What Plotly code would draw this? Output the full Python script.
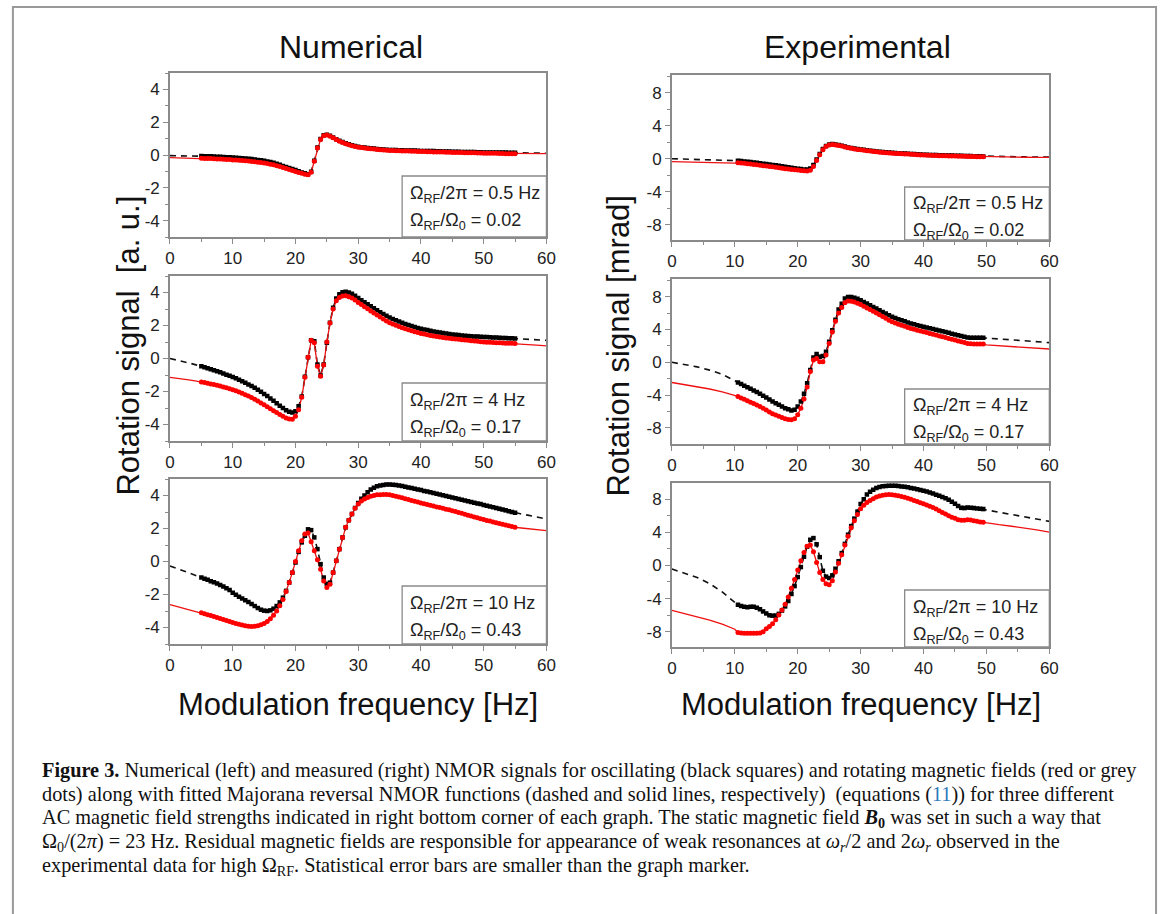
import plotly.graph_objects as go

W, H = 1168, 914

# ---------------------------------------------------------------- data
# sampling grids of the simulated (numerical) and measured (experimental) points
X_NUM = [round(5 + 0.5 * i, 1) for i in range(101)]      # 5 ... 55 Hz
X_EXP = [round(10.5 + 0.5 * i, 1) for i in range(79)]    # 10.5 ... 49.5 Hz
# fitted curves outside the measured range
X_NUM_FIT_L = [0, 1, 2, 3, 4]
X_NUM_FIT_R = [56, 57, 58, 59, 60]
X_EXP_FIT_L = [0, 2, 4, 6, 8, 10]
X_EXP_FIT_R = [50, 52, 54, 56, 58, 60]

X_TICKS = [0, 10, 20, 30, 40, 50, 60]
X_MINOR = [5, 15, 25, 35, 45, 55]
Y_TICKS_NUM = [-4, -2, 0, 2, 4]
Y_MINOR_NUM = [-5, -3, -1, 1, 3, 5]
Y_TICKS_EXP = [-8, -4, 0, 4, 8]
Y_MINOR_EXP = [-10, -6, -2, 2, 6, 10]

# ---- Numerical, Omega_RF/2pi = 0.5 Hz
NUM1_OSC = [
    -0.06, -0.07, -0.07, -0.08, -0.09, -0.10, -0.11, -0.12, -0.13, -0.14,
    -0.16, -0.17, -0.18, -0.20, -0.21, -0.23, -0.25, -0.27, -0.30, -0.32,
    -0.35, -0.39, -0.43, -0.48, -0.54, -0.60, -0.67, -0.73, -0.79, -0.86,
    -0.92, -0.99, -1.06, -1.12, -1.18, -1.02, -0.35, 0.45, 0.98, 1.20,
    1.24, 1.17, 1.07, 0.96, 0.87, 0.79, 0.72, 0.66, 0.60, 0.55,
    0.51, 0.48, 0.45, 0.43, 0.41, 0.39, 0.37, 0.35, 0.34, 0.32,
    0.31, 0.30, 0.30, 0.29, 0.29, 0.28, 0.28, 0.27, 0.27, 0.26,
    0.25, 0.25, 0.25, 0.24, 0.24, 0.23, 0.23, 0.22, 0.22, 0.21,
    0.20, 0.20, 0.20, 0.19, 0.19, 0.18, 0.18, 0.18, 0.17, 0.17,
    0.16, 0.16, 0.16, 0.16, 0.15, 0.15, 0.15, 0.15, 0.14, 0.14,
    0.14]
NUM1_ROT = [
    -0.20, -0.21, -0.21, -0.22, -0.23, -0.24, -0.25, -0.26, -0.27, -0.28,
    -0.30, -0.31, -0.32, -0.34, -0.35, -0.37, -0.39, -0.41, -0.44, -0.46,
    -0.49, -0.52, -0.56, -0.60, -0.65, -0.70, -0.76, -0.82, -0.88, -0.94,
    -1.00, -1.06, -1.12, -1.17, -1.21, -1.05, -0.38, 0.42, 0.95, 1.18,
    1.22, 1.15, 1.05, 0.94, 0.84, 0.76, 0.69, 0.63, 0.57, 0.52,
    0.48, 0.45, 0.42, 0.40, 0.38, 0.36, 0.34, 0.32, 0.31, 0.29,
    0.28, 0.27, 0.26, 0.26, 0.25, 0.24, 0.24, 0.23, 0.23, 0.22,
    0.21, 0.21, 0.20, 0.20, 0.19, 0.19, 0.18, 0.18, 0.17, 0.17,
    0.16, 0.16, 0.15, 0.15, 0.14, 0.14, 0.13, 0.13, 0.12, 0.12,
    0.11, 0.11, 0.10, 0.10, 0.10, 0.09, 0.09, 0.08, 0.08, 0.07,
    0.07]
NUM1_FIT_OSC_L = [-0.04, -0.04, -0.05, -0.05, -0.06]
NUM1_FIT_OSC_R = [0.13, 0.13, 0.12, 0.12, 0.11]
NUM1_FIT_ROT_L = [-0.16, -0.17, -0.18, -0.19, -0.19]
NUM1_FIT_ROT_R = [0.07, 0.07, 0.07, 0.08, 0.08]

# ---- Numerical, Omega_RF/2pi = 4 Hz
NUM2_OSC = [
    -0.47, -0.53, -0.59, -0.65, -0.71, -0.77, -0.84, -0.91, -0.98, -1.05,
    -1.12, -1.20, -1.29, -1.38, -1.47, -1.57, -1.67, -1.78, -1.90, -2.02,
    -2.15, -2.28, -2.42, -2.56, -2.71, -2.86, -3.00, -3.13, -3.22, -3.27,
    -3.20, -2.90, -2.30, -1.10, 0.08, 1.10, 1.05, -0.36, -1.03, -0.36,
    0.95, 2.17, 3.08, 3.63, 3.90, 4.02, 4.04, 4.00, 3.92, 3.80,
    3.66, 3.53, 3.41, 3.29, 3.17, 3.05, 2.93, 2.81, 2.70, 2.59,
    2.49, 2.40, 2.32, 2.24, 2.16, 2.09, 2.03, 1.97, 1.91, 1.85,
    1.80, 1.76, 1.72, 1.68, 1.64, 1.61, 1.58, 1.55, 1.52, 1.49,
    1.46, 1.44, 1.42, 1.40, 1.38, 1.36, 1.35, 1.34, 1.33, 1.32,
    1.31, 1.30, 1.29, 1.28, 1.27, 1.26, 1.25, 1.24, 1.23, 1.22,
    1.21]
NUM2_ROT = [
    -1.42, -1.46, -1.50, -1.54, -1.58, -1.62, -1.67, -1.72, -1.78, -1.83,
    -1.89, -1.96, -2.03, -2.11, -2.19, -2.28, -2.37, -2.47, -2.58, -2.69,
    -2.80, -2.92, -3.04, -3.16, -3.28, -3.40, -3.50, -3.60, -3.67, -3.68,
    -3.50, -3.10, -2.35, -1.14, 0.08, 1.10, 0.95, -0.47, -1.07, -0.40,
    1.00, 2.15, 3.00, 3.50, 3.70, 3.79, 3.80, 3.75, 3.66, 3.54,
    3.40, 3.27, 3.14, 3.01, 2.88, 2.76, 2.64, 2.52, 2.40, 2.28,
    2.17, 2.09, 2.01, 1.94, 1.87, 1.80, 1.74, 1.68, 1.62, 1.57,
    1.52, 1.48, 1.44, 1.40, 1.36, 1.33, 1.30, 1.27, 1.24, 1.22,
    1.20, 1.18, 1.16, 1.14, 1.12, 1.10, 1.08, 1.06, 1.04, 1.02,
    1.00, 0.99, 0.98, 0.97, 0.96, 0.95, 0.94, 0.93, 0.92, 0.92,
    0.91]
NUM2_FIT_OSC_L = [0.00, -0.08, -0.17, -0.27, -0.37]
NUM2_FIT_OSC_R = [1.19, 1.17, 1.15, 1.13, 1.10]
NUM2_FIT_ROT_L = [-1.14, -1.18, -1.23, -1.29, -1.35]
NUM2_FIT_ROT_R = [0.88, 0.85, 0.82, 0.79, 0.76]

# ---- Numerical, Omega_RF/2pi = 10 Hz
NUM3_OSC = [
    -0.97, -1.04, -1.11, -1.19, -1.26, -1.34, -1.42, -1.52, -1.62, -1.73,
    -1.90, -2.02, -2.13, -2.24, -2.35, -2.46, -2.57, -2.70, -2.82, -2.92,
    -2.98, -3.00, -2.96, -2.86, -2.70, -2.48, -2.19, -1.78, -1.28, -0.68,
    -0.06, 0.58, 1.16, 1.56, 1.95, 1.90, 1.46, 0.75, -0.16, -0.97,
    -1.36, -1.28, -0.67, 0.04, 0.75, 1.46, 2.07, 2.50, 2.88, 3.25,
    3.55, 3.80, 4.00, 4.20, 4.36, 4.47, 4.56, 4.61, 4.64, 4.66,
    4.66, 4.65, 4.63, 4.60, 4.57, 4.53, 4.49, 4.45, 4.41, 4.37,
    4.33, 4.28, 4.24, 4.19, 4.15, 4.10, 4.06, 4.01, 3.97, 3.92,
    3.88, 3.83, 3.79, 3.74, 3.70, 3.65, 3.61, 3.56, 3.52, 3.48,
    3.43, 3.38, 3.34, 3.29, 3.24, 3.19, 3.15, 3.10, 3.05, 3.00,
    2.95]
NUM3_ROT = [
    -3.10, -3.16, -3.22, -3.28, -3.34, -3.40, -3.46, -3.52, -3.58, -3.64,
    -3.70, -3.75, -3.80, -3.85, -3.89, -3.92, -3.94, -3.93, -3.90, -3.84,
    -3.75, -3.63, -3.47, -3.26, -3.00, -2.68, -2.30, -1.82, -1.28, -0.66,
    0.00, 0.65, 1.26, 1.66, 1.72, 1.20, 0.65, 0.10, -0.47, -1.18,
    -1.58, -1.38, -0.67, 0.04, 0.75, 1.46, 2.07, 2.50, 2.88, 3.22,
    3.49, 3.66, 3.79, 3.88, 3.96, 4.00, 4.04, 4.05, 4.06, 4.06,
    4.04, 4.00, 3.96, 3.91, 3.86, 3.81, 3.76, 3.70, 3.65, 3.60,
    3.55, 3.50, 3.45, 3.41, 3.36, 3.31, 3.27, 3.22, 3.17, 3.13,
    3.08, 3.03, 2.97, 2.92, 2.86, 2.81, 2.76, 2.70, 2.65, 2.59,
    2.54, 2.49, 2.45, 2.40, 2.35, 2.30, 2.26, 2.21, 2.16, 2.12,
    2.07]
NUM3_FIT_OSC_L = [-0.27, -0.40, -0.54, -0.68, -0.83]
NUM3_FIT_OSC_R = [2.88, 2.81, 2.74, 2.66, 2.58]
NUM3_FIT_ROT_L = [-2.62, -2.72, -2.82, -2.92, -3.01]
NUM3_FIT_ROT_R = [2.03, 1.99, 1.95, 1.91, 1.87]

# ---- Experimental, Omega_RF/2pi = 0.5 Hz
EXP1_OSC = [
    -0.24, -0.28, -0.32, -0.36, -0.40, -0.45, -0.50, -0.55, -0.60, -0.65,
    -0.70, -0.75, -0.80, -0.86, -0.92, -0.98, -1.04, -1.10, -1.15, -1.20,
    -1.25, -1.29, -1.30, -1.17, -0.77, -0.08, 0.57, 1.17, 1.54, 1.74,
    1.78, 1.74, 1.66, 1.58, 1.48, 1.37, 1.30, 1.24, 1.18, 1.13,
    1.08, 1.03, 0.98, 0.93, 0.89, 0.85, 0.81, 0.78, 0.75, 0.73,
    0.70, 0.68, 0.65, 0.63, 0.61, 0.58, 0.56, 0.54, 0.51, 0.49,
    0.48, 0.46, 0.45, 0.44, 0.43, 0.41, 0.40, 0.39, 0.38, 0.37,
    0.36, 0.35, 0.34, 0.33, 0.32, 0.31, 0.30, 0.29, 0.28]
EXP1_ROT = [
    -0.48, -0.52, -0.56, -0.60, -0.64, -0.69, -0.74, -0.79, -0.84, -0.89,
    -0.93, -0.98, -1.03, -1.08, -1.14, -1.20, -1.25, -1.30, -1.34, -1.38,
    -1.43, -1.47, -1.50, -1.40, -0.95, -0.22, 0.48, 1.10, 1.48, 1.68,
    1.72, 1.68, 1.61, 1.53, 1.43, 1.33, 1.26, 1.19, 1.13, 1.08,
    1.03, 0.98, 0.93, 0.88, 0.84, 0.80, 0.76, 0.73, 0.70, 0.68,
    0.65, 0.63, 0.60, 0.58, 0.56, 0.53, 0.51, 0.49, 0.46, 0.44,
    0.43, 0.41, 0.40, 0.39, 0.37, 0.36, 0.35, 0.34, 0.33, 0.32,
    0.31, 0.30, 0.29, 0.28, 0.27, 0.26, 0.25, 0.24, 0.23]
EXP1_FIT_OSC_L = [0.00, -0.03, -0.07, -0.11, -0.16, -0.21]
EXP1_FIT_OSC_R = [0.27, 0.25, 0.24, 0.22, 0.21, 0.20]
EXP1_FIT_ROT_L = [-0.36, -0.38, -0.40, -0.42, -0.44, -0.46]
EXP1_FIT_ROT_R = [0.22, 0.21, 0.20, 0.18, 0.17, 0.16]

# ---- Experimental, Omega_RF/2pi = 4 Hz
EXP2_OSC = [
    -2.46, -2.65, -2.84, -3.03, -3.23, -3.43, -3.63, -3.84, -4.07, -4.30,
    -4.53, -4.77, -4.98, -5.18, -5.38, -5.58, -5.72, -5.86, -5.78, -5.37,
    -4.77, -3.84, -2.55, -0.93, 0.60, 1.00, 0.69, 0.77, 1.30, 2.50,
    3.92, 5.20, 6.42, 7.15, 7.76, 7.96, 7.96, 7.88, 7.74, 7.56,
    7.36, 7.16, 6.96, 6.75, 6.55, 6.35, 6.14, 5.94, 5.74, 5.54,
    5.40, 5.26, 5.13, 5.00, 4.86, 4.73, 4.63, 4.53, 4.42, 4.32,
    4.23, 4.15, 4.06, 3.97, 3.89, 3.80, 3.70, 3.60, 3.49, 3.39,
    3.30, 3.20, 3.11, 3.03, 3.00, 2.99, 2.99, 2.99, 2.99]
EXP2_ROT = [
    -4.16, -4.34, -4.51, -4.69, -4.86, -5.03, -5.20, -5.37, -5.59, -5.81,
    -6.04, -6.26, -6.42, -6.58, -6.73, -6.87, -6.96, -6.99, -6.87, -6.38,
    -5.58, -4.48, -3.00, -1.13, 0.28, 0.48, 0.08, 0.08, 0.90, 2.30,
    3.70, 5.00, 6.00, 6.67, 7.27, 7.47, 7.45, 7.35, 7.20, 7.03,
    6.83, 6.63, 6.43, 6.22, 6.00, 5.78, 5.57, 5.36, 5.14, 4.93,
    4.79, 4.65, 4.52, 4.39, 4.25, 4.12, 4.02, 3.92, 3.82, 3.72,
    3.62, 3.52, 3.42, 3.32, 3.22, 3.11, 3.01, 2.91, 2.81, 2.71,
    2.60, 2.50, 2.40, 2.30, 2.25, 2.22, 2.22, 2.22, 2.22]
EXP2_FIT_OSC_L = [0.00, -0.25, -0.55, -0.95, -1.45, -2.25]
EXP2_FIT_OSC_R = [2.95, 2.85, 2.75, 2.63, 2.52, 2.40]
EXP2_FIT_ROT_L = [-2.46, -2.70, -2.95, -3.25, -3.60, -4.00]
EXP2_FIT_ROT_R = [2.12, 2.02, 1.92, 1.82, 1.72, 1.62]

# ---- Experimental, Omega_RF/2pi = 10 Hz
EXP3_OSC = [
    -4.76, -4.90, -5.00, -5.04, -5.00, -4.98, -5.10, -5.30, -5.55, -5.80,
    -6.02, -6.07, -6.05, -5.85, -5.45, -4.95, -4.30, -3.45, -2.50, -1.40,
    -0.20, 1.05, 2.25, 3.10, 3.30, 2.55, 1.00, -0.65, -1.35, -1.52,
    -1.20, -0.40, 0.50, 1.49, 2.60, 3.71, 4.75, 5.65, 6.50, 7.40,
    8.00, 8.55, 8.90, 9.15, 9.35, 9.48, 9.56, 9.60, 9.62, 9.62,
    9.61, 9.58, 9.54, 9.49, 9.43, 9.36, 9.28, 9.20, 9.11, 9.02,
    8.92, 8.80, 8.67, 8.54, 8.40, 8.25, 8.10, 7.93, 7.70, 7.45,
    7.18, 6.95, 6.92, 6.98, 6.96, 6.92, 6.88, 6.84, 6.80]
EXP3_ROT = [
    -8.10, -8.15, -8.18, -8.18, -8.20, -8.20, -8.18, -8.15, -8.00, -7.65,
    -7.38, -7.05, -6.55, -6.00, -5.38, -4.70, -3.80, -2.75, -1.70, -0.55,
    0.55, 1.55, 2.30, 2.45, 1.65, 0.35, -0.85, -1.70, -2.20, -2.34,
    -1.85, -0.80, 0.25, 1.29, 2.45, 3.51, 4.55, 5.40, 6.15, 6.85,
    7.25, 7.60, 7.85, 8.05, 8.25, 8.38, 8.48, 8.54, 8.55, 8.52,
    8.47, 8.40, 8.32, 8.22, 8.10, 7.98, 7.85, 7.72, 7.58, 7.45,
    7.30, 7.15, 6.98, 6.80, 6.60, 6.40, 6.20, 6.00, 5.80, 5.68,
    5.52, 5.44, 5.44, 5.50, 5.48, 5.40, 5.32, 5.25, 5.20]
EXP3_FIT_OSC_L = [-0.44, -0.90, -1.45, -2.20, -3.20, -4.48]
EXP3_FIT_OSC_R = [6.70, 6.42, 6.15, 5.85, 5.58, 5.32]
EXP3_FIT_ROT_L = [-5.44, -5.80, -6.17, -6.60, -7.10, -7.70]
EXP3_FIT_ROT_R = [5.12, 4.92, 4.73, 4.53, 4.30, 4.03]

BOX_LINE1 = ["Ω<sub>RF</sub>/2π = 0.5 Hz", "Ω<sub>RF</sub>/2π = 4 Hz", "Ω<sub>RF</sub>/2π = 10 Hz"]
BOX_LINE2 = ["Ω<sub>RF</sub>/Ω<sub>0</sub> = 0.02", "Ω<sub>RF</sub>/Ω<sub>0</sub> = 0.17",
             "Ω<sub>RF</sub>/Ω<sub>0</sub> = 0.43"]

COLUMN_TITLES = ["Numerical", "Experimental"]
Y_TITLES = ["Rotation signal&nbsp; [a. u.]", "Rotation signal [mrad]"]
X_TITLE = "Modulation frequency [Hz]"

CAPTION = [
    "<b>Figure 3.</b> Numerical (left) and measured (right) NMOR signals for oscillating (black squares) "
    "and rotating magnetic fields (red or grey",
    "dots) along with fitted Majorana reversal NMOR functions (dashed and solid lines, respectively)&nbsp; "
    "(equations (<span style='color:#2b7bb9'>11</span>)) for three different",
    "AC magnetic field strengths indicated in right bottom corner of each graph. The static magnetic field "
    "<b><i>B</i><sub>0</sub></b> was set in such a way that",
    "Ω<sub>0</sub>/(2<i>π</i>) = 23 Hz. Residual magnetic fields are responsible for appearance of weak "
    "resonances at <i>ω<sub>r</sub></i>/2 and 2<i>ω<sub>r</sub></i> observed in the",
    "experimental data for high Ω<sub>RF</sub>. Statistical error bars are smaller than the graph marker.",
]

# ---------------------------------------------------------------- panels
PANELS = [
    dict(x=X_NUM, osc=NUM1_OSC, rot=NUM1_ROT, xl=X_NUM_FIT_L, xr=X_NUM_FIT_R,
         fol=NUM1_FIT_OSC_L, for_=NUM1_FIT_OSC_R, frl=NUM1_FIT_ROT_L, frr=NUM1_FIT_ROT_R, row=0, col=0),
    dict(x=X_NUM, osc=NUM2_OSC, rot=NUM2_ROT, xl=X_NUM_FIT_L, xr=X_NUM_FIT_R,
         fol=NUM2_FIT_OSC_L, for_=NUM2_FIT_OSC_R, frl=NUM2_FIT_ROT_L, frr=NUM2_FIT_ROT_R, row=1, col=0),
    dict(x=X_NUM, osc=NUM3_OSC, rot=NUM3_ROT, xl=X_NUM_FIT_L, xr=X_NUM_FIT_R,
         fol=NUM3_FIT_OSC_L, for_=NUM3_FIT_OSC_R, frl=NUM3_FIT_ROT_L, frr=NUM3_FIT_ROT_R, row=2, col=0),
    dict(x=X_EXP, osc=EXP1_OSC, rot=EXP1_ROT, xl=X_EXP_FIT_L, xr=X_EXP_FIT_R,
         fol=EXP1_FIT_OSC_L, for_=EXP1_FIT_OSC_R, frl=EXP1_FIT_ROT_L, frr=EXP1_FIT_ROT_R, row=0, col=1),
    dict(x=X_EXP, osc=EXP2_OSC, rot=EXP2_ROT, xl=X_EXP_FIT_L, xr=X_EXP_FIT_R,
         fol=EXP2_FIT_OSC_L, for_=EXP2_FIT_OSC_R, frl=EXP2_FIT_ROT_L, frr=EXP2_FIT_ROT_R, row=1, col=1),
    dict(x=X_EXP, osc=EXP3_OSC, rot=EXP3_ROT, xl=X_EXP_FIT_L, xr=X_EXP_FIT_R,
         fol=EXP3_FIT_OSC_L, for_=EXP3_FIT_OSC_R, frl=EXP3_FIT_ROT_L, frr=EXP3_FIT_ROT_R, row=2, col=1),
]

# geometry (pixels): left, right, top, bottom of each plot area; y range; box top pixel
GEOM = [
    dict(l=167, r=548, t=73, b=237, yr=(-5, 5), box_t=176),
    dict(l=167, r=548, t=276, b=441, yr=(-5, 5), box_t=383),
    dict(l=167, r=548, t=479, b=644, yr=(-5, 5), box_t=586),
    dict(l=675, r=1057, t=75, b=240, yr=(-9.85, 10.15), box_t=187),
    dict(l=675, r=1057, t=279, b=444, yr=(-9.95, 10.15), box_t=389),
    dict(l=675, r=1057, t=483, b=647, yr=(-9.85, 9.95), box_t=590),
]
BOX_X0 = 37

AX_GRAY = "#8a8a8a"
TICK_FONT = dict(family="Liberation Sans, Arial, sans-serif", size=17, color="#222222")
SANS = "Liberation Sans, Arial, sans-serif"
SERIF = "Liberation Serif, Times New Roman, serif"


def px(x):
    return x / W


def py(y):
    return 1 - y / H


fig = go.Figure()
layout = dict(width=W, height=H, margin=dict(l=0, r=0, t=0, b=0),
              paper_bgcolor="white", plot_bgcolor="white", showlegend=False,
              annotations=[], shapes=[])

for k, (p, g) in enumerate(zip(PANELS, GEOM), start=1):
    xa = "x" if k == 1 else f"x{k}"
    ya = "y" if k == 1 else f"y{k}"
    xkey = "xaxis" if k == 1 else f"xaxis{k}"
    ykey = "yaxis" if k == 1 else f"yaxis{k}"
    exp = p["col"] == 1
    yt = Y_TICKS_EXP if exp else Y_TICKS_NUM
    ym = Y_MINOR_EXP if exp else Y_MINOR_NUM

    layout[xkey] = dict(domain=[px(g["l"]), px(g["r"])], anchor=ya, range=[0, 60],
                        tickmode="array", tickvals=X_TICKS, ticktext=[str(v) for v in X_TICKS],
                        ticks="outside", ticklen=5, tickwidth=1.2, tickcolor=AX_GRAY,
                        showline=True, linecolor=AX_GRAY, linewidth=1.6, mirror=True,
                        showgrid=False, zeroline=False, tickfont=TICK_FONT,
                        minor=dict(tickmode="array", tickvals=X_MINOR, ticks="outside",
                                   ticklen=3, tickcolor=AX_GRAY, showgrid=False))
    layout[ykey] = dict(domain=[py(g["b"]), py(g["t"])], anchor=xa, range=list(g["yr"]),
                        tickmode="array", tickvals=yt, ticktext=[str(v) for v in yt],
                        ticks="outside", ticklen=5, tickwidth=1.2, tickcolor=AX_GRAY,
                        showline=True, linecolor=AX_GRAY, linewidth=1.6, mirror=True,
                        showgrid=False, zeroline=False, tickfont=TICK_FONT,
                        minor=dict(tickmode="array", tickvals=ym, ticks="outside",
                                   ticklen=3, tickcolor=AX_GRAY, showgrid=False))

    # fitted curves
    fit_x = p["xl"] + p["x"] + p["xr"]
    fig.add_trace(go.Scatter(x=fit_x, y=p["fol"] + p["osc"] + p["for_"], xaxis=xa, yaxis=ya,
                             mode="lines", line=dict(color="#111111", width=1.6, dash="6px,5px"),
                             hoverinfo="skip"))
    fig.add_trace(go.Scatter(x=fit_x, y=p["frl"] + p["rot"] + p["frr"], xaxis=xa, yaxis=ya,
                             mode="lines", line=dict(color="#ee1111", width=1.3),
                             hoverinfo="skip"))
    # data points
    fig.add_trace(go.Scatter(x=p["x"], y=p["osc"], xaxis=xa, yaxis=ya, mode="markers",
                             marker=dict(symbol="square", size=4.5, color="#000000",
                                         line=dict(width=0))))
    fig.add_trace(go.Scatter(x=p["x"], y=p["rot"], xaxis=xa, yaxis=ya, mode="markers",
                             marker=dict(symbol="circle", size=5, color="#ff0000",
                                         line=dict(width=0))))

    # parameter box
    box_l = g["l"] + BOX_X0 / 60 * (g["r"] - g["l"])
    layout["shapes"].append(dict(type="rect", xref="paper", yref="paper",
                                 x0=px(box_l), x1=px(g["r"]), y0=py(g["b"]), y1=py(g["box_t"]),
                                 line=dict(color=AX_GRAY, width=1.3), fillcolor="rgba(0,0,0,0)"))
    for j, txt in enumerate([BOX_LINE1[p["row"]], BOX_LINE2[p["row"]]]):
        layout["annotations"].append(dict(xref="paper", yref="paper", x=px(box_l + 6),
                                          y=py(g["box_t"] + 18 + 27 * j), xanchor="left",
                                          yanchor="middle", showarrow=False, text=txt,
                                          font=dict(family=SANS, size=18, color="#222222")))

# column titles, axis titles
for col, (cx, yx, xx) in enumerate([(350, 124, 357), (863, 620, 866)]):
    layout["annotations"].append(dict(xref="paper", yref="paper", x=px(cx), y=py(47),
                                      xanchor="center", yanchor="middle", showarrow=False,
                                      text=COLUMN_TITLES[col],
                                      font=dict(family=SANS, size=32, color="#111111")))
    layout["annotations"].append(dict(xref="paper", yref="paper", x=px(yx), y=py(346),
                                      xanchor="center", yanchor="middle", showarrow=False,
                                      textangle=-90, text=Y_TITLES[col],
                                      font=dict(family=SANS, size=31, color="#111111")))
    layout["annotations"].append(dict(xref="paper", yref="paper", x=px(xx), y=py(704),
                                      xanchor="center", yanchor="middle", showarrow=False,
                                      text=X_TITLE, font=dict(family=SANS, size=31, color="#111111")))

# caption
for i, line in enumerate(CAPTION):
    layout["annotations"].append(dict(xref="paper", yref="paper", x=px(35), y=py(770 + 24 * i),
                                      xanchor="left", yanchor="middle", showarrow=False, text=line,
                                      font=dict(family=SERIF, size=20.3, color="#111111")))

# outer frame
layout["shapes"].append(dict(type="rect", xref="paper", yref="paper", x0=px(8), x1=px(1165),
                             y0=-0.05, y1=py(7), line=dict(color="#999999", width=2),
                             fillcolor="rgba(0,0,0,0)", layer="below"))

fig.update_layout(**layout)
fig.write_html("out.html", config={"displayModeBar": False},
               post_script="document.body.style.margin='0px';document.body.style.overflow='hidden';")
